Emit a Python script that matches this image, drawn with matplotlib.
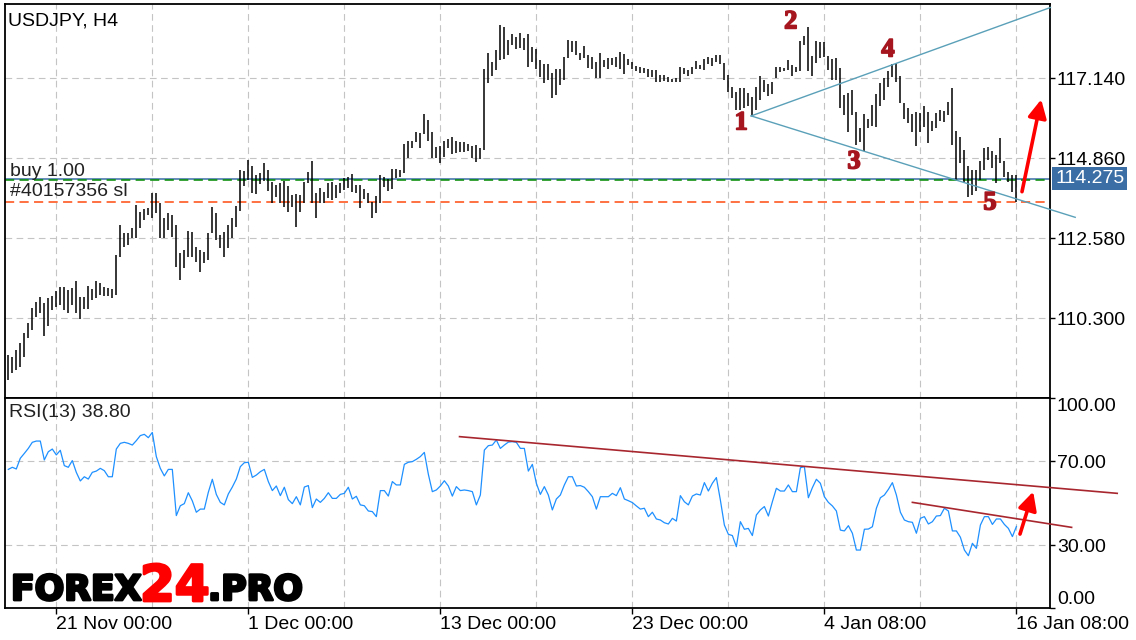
import numpy as np
import matplotlib
matplotlib.use("Agg")
import matplotlib.pyplot as plt
import matplotlib.patheffects as pe

plt.rcParams['font.family'] = ['Liberation Sans', 'DejaVu Sans']

# H4 bars, highs and lows
highs = [
    109.25, 109.19, 109.39, 109.59, 109.87, 110.16, 110.59, 110.76, 110.90, 110.73,
    110.87, 110.93, 111.07, 111.18, 111.18, 111.10, 111.16, 111.35, 110.90, 110.90,
    111.21, 111.13, 111.35, 111.30, 111.18, 111.16, 111.13, 112.09, 112.95, 112.72,
    112.72, 112.87, 113.52, 113.32, 113.41, 113.44, 113.86, 113.86, 113.58, 113.15,
    113.29, 113.24, 112.95, 112.15, 112.24, 112.78, 112.75, 112.32, 112.24, 112.18,
    112.72, 113.46, 113.29, 112.67, 112.75, 112.95, 113.15, 113.49, 114.52, 114.49,
    114.80, 114.63, 114.38, 114.43, 114.72, 114.52, 114.18, 114.09, 114.15, 114.21,
    114.06, 113.80, 113.83, 113.80, 114.18, 114.46, 114.77, 113.86, 114.00, 113.89,
    114.15, 114.18, 114.09, 114.15, 114.29, 114.32, 114.40, 114.09, 114.09, 113.98,
    113.86, 113.61, 113.78, 114.38, 114.32, 114.26, 114.55, 114.55, 114.52, 115.26,
    115.34, 115.34, 115.60, 115.57, 116.11, 115.94, 115.60, 115.17, 115.20, 115.34,
    115.40, 115.46, 115.34, 115.31, 115.31, 115.26, 115.20, 115.23, 115.14, 117.40,
    117.85, 117.60, 117.94, 118.65, 118.59, 118.22, 118.39, 118.31, 118.42, 118.28,
    118.39, 118.02, 117.97, 117.65, 117.54, 117.54, 117.28, 117.40, 117.40, 117.74,
    118.22, 118.19, 118.19, 117.85, 118.05, 117.80, 117.74, 117.60, 117.85, 117.65,
    117.71, 117.71, 117.74, 117.88, 117.82, 117.68, 117.60, 117.48, 117.45, 117.43,
    117.40, 117.37, 117.37, 117.23, 117.23, 117.17, 117.11, 117.14, 117.45, 117.43,
    117.37, 117.45, 117.62, 117.51, 117.68, 117.74, 117.71, 117.80, 117.80, 117.57,
    117.23, 116.88, 116.74, 116.86, 116.86, 116.71, 116.60, 116.88, 117.20, 117.08,
    116.97, 117.03, 117.45, 117.45, 117.43, 117.65, 117.51, 117.45, 118.19, 118.34,
    118.59, 117.77, 118.19, 118.17, 118.17, 117.77, 117.68, 117.71, 117.43, 116.66,
    116.71, 116.80, 116.17, 115.71, 116.11, 115.97, 116.37, 116.68, 117.00, 117.14,
    117.34, 117.54, 117.57, 117.20, 116.43, 116.29, 116.11, 116.17, 116.14, 116.34,
    116.17, 115.91, 116.14, 116.23, 116.20, 116.46, 116.86, 115.63, 115.46, 115.09,
    114.63, 114.52, 114.52, 114.77, 115.14, 115.17, 115.06, 114.95, 115.43, 114.77,
    114.46, 114.38, 114.38,
]
lows = [
    108.53, 108.73, 108.82, 108.90, 109.19, 109.73, 109.96, 110.33, 110.44, 109.79,
    110.07, 110.53, 110.61, 110.67, 110.53, 110.44, 110.67, 110.44, 110.27, 110.56,
    110.56, 110.81, 110.87, 110.96, 110.93, 110.93, 110.87, 110.96, 112.04, 112.32,
    112.38, 112.58, 112.58, 112.87, 113.09, 113.24, 113.15, 113.29, 112.58, 112.58,
    112.81, 112.61, 111.75, 111.38, 111.73, 112.04, 112.04, 111.90, 111.61, 111.87,
    111.95, 112.72, 112.52, 112.30, 112.04, 112.30, 112.58, 112.89, 113.35, 114.06,
    114.23, 113.86, 113.83, 114.12, 114.21, 113.92, 113.58, 113.75, 113.58, 113.46,
    113.32, 113.46, 112.89, 113.32, 113.58, 114.15, 113.58, 113.15, 113.58, 113.58,
    113.72, 113.66, 113.72, 113.86, 113.95, 114.00, 113.89, 113.86, 113.43, 113.69,
    113.58, 113.15, 113.29, 113.58, 114.03, 113.92, 113.98, 114.29, 114.32, 114.43,
    114.86, 115.14, 115.31, 115.14, 115.54, 115.34, 114.86, 114.86, 114.72, 114.89,
    115.14, 114.97, 115.00, 115.03, 115.03, 115.06, 114.86, 114.75, 114.83, 115.09,
    117.00, 117.20, 117.37, 117.65, 117.68, 117.80, 118.08, 117.97, 118.00, 117.94,
    117.45, 117.60, 117.40, 117.17, 117.00, 117.08, 116.57, 116.66, 116.94, 117.08,
    117.71, 117.88, 117.80, 117.65, 117.71, 117.43, 117.40, 117.14, 117.14, 117.45,
    117.40, 117.51, 117.45, 117.40, 117.25, 117.51, 117.40, 117.34, 117.28, 117.28,
    117.17, 117.17, 117.03, 117.03, 117.05, 117.03, 117.03, 117.03, 117.03, 117.25,
    117.20, 117.25, 117.40, 117.40, 117.37, 117.54, 117.48, 117.60, 117.54, 117.08,
    116.74, 116.57, 116.23, 116.23, 116.29, 116.34, 116.09, 116.23, 116.51, 116.74,
    116.63, 116.68, 117.14, 117.31, 117.34, 117.37, 117.20, 117.31, 117.34, 118.08,
    117.34, 117.20, 117.57, 117.71, 117.74, 117.37, 117.08, 117.08, 116.29, 116.09,
    115.60, 116.09, 115.23, 115.31, 115.06, 115.71, 115.77, 115.74, 116.34, 116.51,
    116.88, 117.17, 117.03, 116.43, 115.97, 115.86, 115.60, 115.20, 115.60, 115.74,
    115.29, 115.63, 115.71, 115.91, 115.89, 116.09, 115.23, 114.23, 114.72, 114.18,
    113.75, 113.80, 113.92, 114.23, 114.52, 114.80, 114.58, 114.15, 114.72, 114.32,
    114.18, 113.89, 113.60,
]
rsi = [
    66.0, 67.0, 66.2, 71.3, 73.6, 76.0, 78.9, 79.5, 79.5, 70.5,
    74.4, 75.7, 72.9, 75.1, 67.8, 67.0, 70.2, 64.6, 60.5, 62.5,
    61.4, 64.6, 65.2, 66.5, 65.4, 62.5, 62.5, 75.7, 78.4, 78.9,
    78.4, 77.6, 79.7, 82.1, 82.7, 81.1, 83.6, 72.1, 66.5, 62.9,
    66.0, 66.0, 44.0, 48.7, 49.7, 54.9, 51.0, 45.6, 47.1, 47.1,
    55.1, 61.3, 54.1, 50.3, 49.1, 54.3, 57.6, 61.4, 67.3, 69.2,
    69.4, 62.2, 63.3, 64.9, 66.0, 60.2, 55.9, 58.1, 53.5, 57.5,
    51.6, 49.7, 53.0, 49.1, 57.6, 58.3, 47.8, 51.9, 50.3, 52.2,
    54.9, 52.2, 52.2, 54.1, 54.6, 57.5, 51.9, 53.2, 49.1, 48.7,
    46.2, 45.9, 43.5, 55.9, 55.9, 53.3, 60.2, 58.6, 58.6, 68.4,
    69.4, 69.7, 70.8, 72.1, 74.1, 63.7, 55.4, 56.2, 58.1, 60.6,
    58.1, 53.3, 57.8, 55.9, 56.2, 55.9, 55.4, 49.1, 53.8, 75.2,
    77.3, 77.6, 80.0, 76.0, 77.6, 79.0, 79.2, 78.9, 76.0, 76.0,
    65.2, 68.4, 59.4, 54.1, 57.8, 53.8, 46.7, 51.9, 53.8, 58.6,
    62.5, 62.5, 58.1, 58.3, 57.5, 55.4, 53.0, 47.1, 53.0, 53.0,
    53.0, 54.6, 53.5, 57.3, 51.9, 51.1, 50.2, 48.6, 47.1, 47.5,
    43.5, 45.6, 42.4, 41.9, 40.6, 40.0, 42.7, 41.4, 53.5, 50.6,
    49.1, 53.3, 54.3, 53.8, 59.7, 55.7, 59.4, 62.1, 51.4, 39.5,
    35.1, 34.5, 29.2, 41.1, 37.5, 37.9, 34.5, 44.3, 46.7, 48.3,
    43.8, 50.6, 57.0, 55.7, 55.7, 58.6, 55.4, 55.4, 66.8, 67.3,
    52.5, 57.3, 61.3, 59.4, 53.0, 50.3, 48.6, 46.2, 37.1, 36.7,
    39.2, 35.6, 27.6, 27.6, 37.5, 37.6, 38.7, 47.5, 52.5, 53.8,
    56.5, 59.7, 53.8, 45.6, 41.9, 41.1, 40.8, 35.6, 42.7, 43.5,
    40.0, 41.1, 43.8, 44.0, 47.5, 46.2, 36.7, 36.7, 33.7, 27.6,
    24.9, 30.8, 28.4, 39.5, 43.5, 43.5, 39.8, 42.4, 42.4, 39.8,
    37.9, 34.0, 38.8,
]

price_ticks = [110.30, 112.58, 114.86, 117.14]
rsi_ticks = [0, 30, 70, 100]
date_ticks = [12, 60, 108, 156, 204, 252]
date_labels = ["21 Nov 00:00", "1 Dec 00:00", "13 Dec 00:00",
               "23 Dec 00:00", "4 Jan 08:00", "16 Jan 08:00"]
grid_bars = np.arange(12, 253, 24)

bid = 114.275
buy_price = 114.23
sl_price = 113.60

# drawn objects (bar index, price / rsi)
wedge_pivot = (185.7, 116.06)
wedge_upper = (260.5, 119.15)
wedge_lower = (266.7, 113.17)
wave_labels = ["1", "2", "3", "4", "5"]
wave_x = [183.2, 195.6, 211.4, 219.9, 245.4]
wave_y = [115.86, 118.74, 114.75, 117.94, 113.58]
price_arrow = [(253.4, 113.90), (258.2, 116.53)]
rsi_line1 = [(112.8, 81.6), (277.2, 54.6)]
rsi_line2 = [(226.0, 50.3), (265.8, 38.4)]
rsi_arrow = [(252.9, 35.2), (256.2, 55.4)]

W, H = 1136, 640
fig = plt.figure(figsize=(W / 100, H / 100), dpi=100)
ax = fig.add_axes([5 / W, 1 - 398 / H, 1045 / W, 394 / H])
ax2 = fig.add_axes([5 / W, 1 - 608 / H, 1045 / W, 210 / H], sharex=ax)

x = np.arange(len(highs))
grid_kw = dict(color="#c4c4c4", lw=0.8, dashes=(6, 4), zorder=0)

# ---- price panel
for g in grid_bars:
    ax.axvline(g, **grid_kw)
    ax2.axvline(g, **grid_kw)
for p in price_ticks:
    ax.axhline(p, **grid_kw)
for r in (30, 70):
    ax2.axhline(r, **grid_kw)

ax.vlines(x, lows, highs, color="black", lw=1.1, zorder=3)

ax.axhline(bid, color="#3a6ea5", lw=1.1, zorder=2)
ax.axhline(buy_price, color="#008a00", lw=1.1, dashes=(6, 3.5), zorder=2)
ax.axhline(sl_price, color="#ff4a10", lw=1.1, dashes=(6, 3.5), zorder=2)

teal = "#5aa0b8"
for end in (wedge_upper, wedge_lower):
    ax.plot([wedge_pivot[0], end[0]], [wedge_pivot[1], end[1]],
            color=teal, lw=1.0, clip_on=False, zorder=4)

for lab, wx, wy in zip(wave_labels, wave_x, wave_y):
    ax.text(wx, wy, lab, color="#a5161f", fontsize=19, fontweight="bold",
            family=["Liberation Serif", "DejaVu Serif"], ha="center", va="center", zorder=5,
            path_effects=[pe.withStroke(linewidth=1.2, foreground="#a5161f")])

arrow_kw = dict(arrowstyle="-|>,head_length=0.55,head_width=0.28", color="red",
                lw=2.6, shrinkA=0, shrinkB=0, mutation_scale=20)
ax.annotate("", xy=price_arrow[1], xytext=price_arrow[0], arrowprops=arrow_kw,
            annotation_clip=False, zorder=6)

ax.set_xlim(-0.825, 260.4)
ax.set_ylim(108.02, 119.25)
ax.yaxis.tick_right()
ax.set_yticks(price_ticks)
ax.set_yticklabels([f"{p:.3f}" for p in price_ticks])
ax.tick_params(axis="y", direction="out", length=3.5, width=1, labelsize=14, pad=1.5)
ax.tick_params(axis="x", bottom=False, labelbottom=False)

ax.annotate(f"{bid:.3f}", xy=(1, bid), xycoords=("axes fraction", "data"),
            xytext=(3.8, 0), textcoords="offset points", ha="left", va="center",
            fontsize=14, color="white", annotation_clip=False,
            bbox=dict(boxstyle="square,pad=0.15", fc="#3a6ea5", ec="none"))

# ---- rsi panel
ax2.plot(x, rsi, color="#1e90ff", lw=0.9, zorder=3)
for seg in (rsi_line1, rsi_line2):
    ax2.plot([seg[0][0], seg[1][0]], [seg[0][1], seg[1][1]],
             color="#a8272f", lw=1.2, clip_on=False, zorder=4)
ax2.annotate("", xy=rsi_arrow[1], xytext=rsi_arrow[0], arrowprops=arrow_kw,
             annotation_clip=False, zorder=6)

ax2.set_ylim(0, 100)
ax2.yaxis.tick_right()
ax2.set_yticks(rsi_ticks)
ax2.set_yticklabels([f"{r:.2f}" for r in rsi_ticks])
ax2.tick_params(axis="y", direction="out", length=3.5, width=1, labelsize=14, pad=1.5)
ylabs = ax2.get_yticklabels()
ylabs[0].set_va("bottom")
ylabs[-1].set_va("top")
ax2.set_xticks(date_ticks)
ax2.set_xticklabels(date_labels, ha="left")
ax2.tick_params(axis="x", direction="out", length=4, width=1, labelsize=14, pad=2)

for a in (ax, ax2):
    for s in a.spines.values():
        s.set_linewidth(1.3)
        s.set_color("black")

# ---- texts
fig.text(8 / W, 1 - 26 / H, "USDJPY, H4", fontsize=14, va="baseline")
fig.text(10 / W, 1 - 176 / H, "buy 1.00", fontsize=14, va="baseline", color="#222222")
fig.text(10 / W, 1 - 196 / H, "#40157356 sl", fontsize=14, va="baseline", color="#222222")
fig.text(9 / W, 1 - 417 / H, "RSI(13) 38.80", fontsize=14, va="baseline", color="#222222")

logo = ["DejaVu Sans"]
fig.text(11 / W, 1 - 600 / H, "FOREX", fontsize=25, fontweight="heavy", family=logo,
         color="black", va="baseline",
         path_effects=[pe.withStroke(linewidth=2, foreground="black")])
fig.text(140 / W, 1 - 601 / H, "24", fontsize=36, fontweight="heavy", family=logo,
         color="#ff0000", va="baseline",
         path_effects=[pe.withStroke(linewidth=2, foreground="#ff0000")])
fig.text(208 / W, 1 - 600 / H, ".PRO", fontsize=25, fontweight="heavy", family=logo,
         color="black", va="baseline",
         path_effects=[pe.withStroke(linewidth=2, foreground="black")])

fig.savefig("out.png", dpi=100)
